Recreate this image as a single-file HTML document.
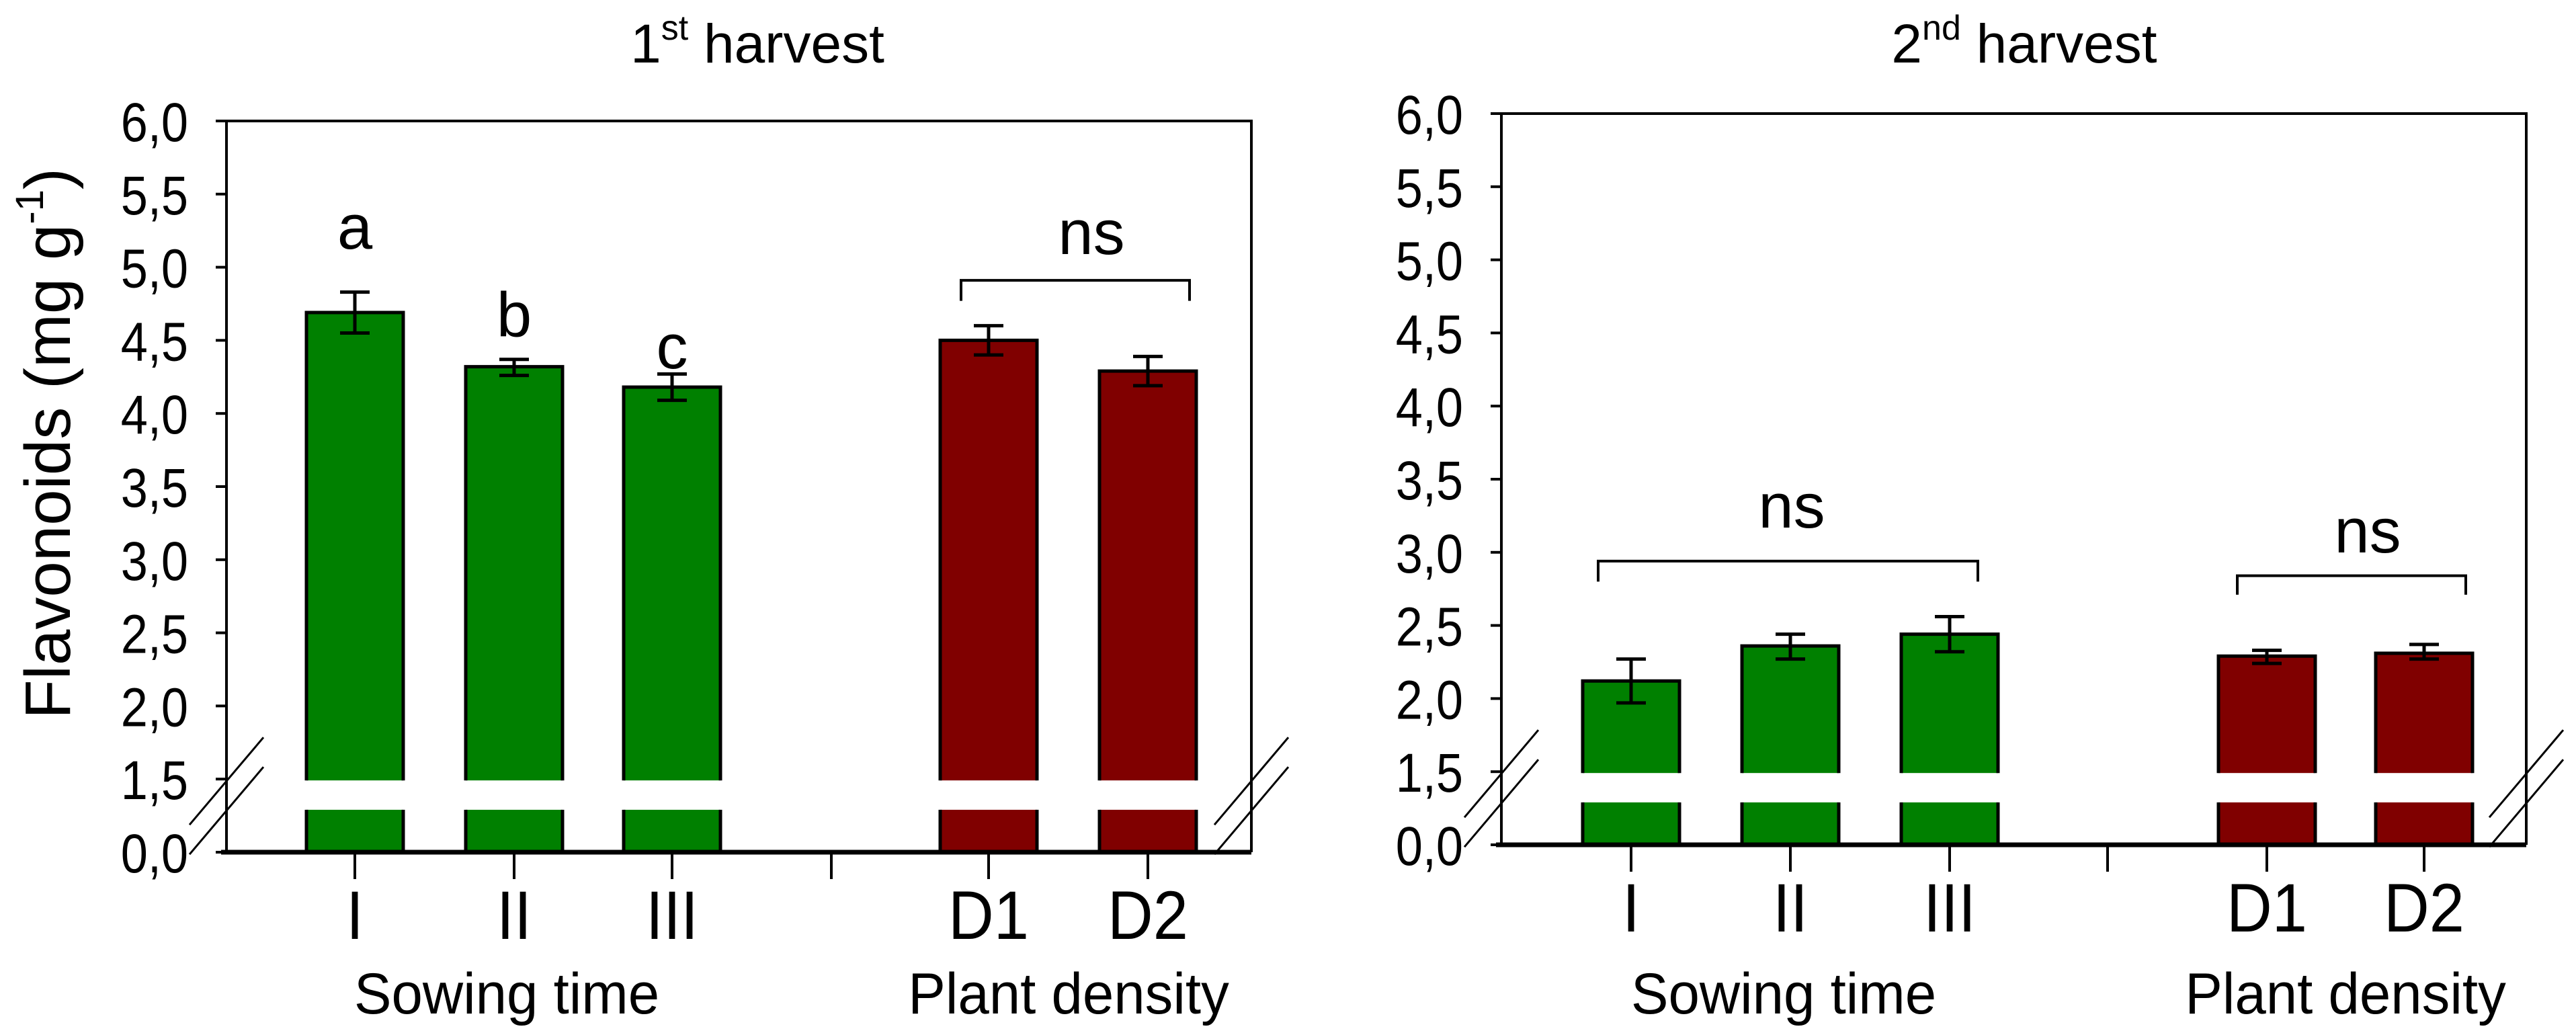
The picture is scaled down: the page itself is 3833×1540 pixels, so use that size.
<!DOCTYPE html>
<html><head><meta charset="utf-8"><style>
html,body{margin:0;padding:0;background:#fff;}
svg{display:block;font-family:"Liberation Sans",Arial,sans-serif;}
</style></head><body>
<svg id="chart" width="3833" height="1540" viewBox="0 0 3833 1540" xmlns="http://www.w3.org/2000/svg"></svg>
<script>
const categories = ["I","II","III","D1","D2"];
const groupLabels = ["Sowing time","Plant density"];
const yTicks = [0,1.5,2,2.5,3,3.5,4,4.5,5,5.5,6];
const yTickLabels = ["0,0","1,5","2,0","2,5","3,0","3,5","4,0","4,5","5,0","5,5","6,0"];
const h1Values = [4.69,4.32,4.18,4.50,4.29];
const h1ErrLow = [4.55,4.26,4.09,4.40,4.19];
const h1ErrHigh = [4.83,4.37,4.27,4.60,4.39];
const h1Letters = ["a","b","c","",""];
const h2Values = [2.12,2.36,2.44,2.29,2.31];
const h2ErrLow = [1.97,2.27,2.32,2.24,2.27];
const h2ErrHigh = [2.27,2.44,2.56,2.33,2.37];

const NS="http://www.w3.org/2000/svg";
const svg=document.getElementById('chart');
function el(tag,attrs,parent){const e=document.createElementNS(NS,tag);for(const k in attrs)e.setAttribute(k,attrs[k]);(parent||svg).appendChild(e);return e;}
function txt(x,y,s,size,anchor,parent,sx){const t=el('text',{transform:`translate(${x},${y}) scale(${sx||1},1)`,'font-size':size,'text-anchor':anchor||'middle',fill:'#000'},parent);t.textContent=s;return t;}

const panels=[
 {x0:337,x1:1862,top:180,bottom:1268,cx:[528,765,1000,1471,1708],sep:1237,vals:h1Values,lo:h1ErrLow,hi:h1ErrHigh,title:"1",sup:"st",titleX:1127,
  groupX:[754,1590],brackets:[{a:1430,b:1770,v:4.91,leg:4.77,tv:5.09,tx:1624}]},
 {x0:2234,x1:3759,top:169,bottom:1257,cx:[2427,2664,2901,3373,3607],sep:3136,vals:h2Values,lo:h2ErrLow,hi:h2ErrHigh,title:"2",sup:"nd",titleX:3012,
  groupX:[2654,3490],brackets:[{a:2378,b:2943,v:2.94,leg:2.80,tv:3.17,tx:2666},{a:3329,b:3669,v:2.84,leg:2.71,tv:3.0,tx:3523}]}
];

panels.forEach((p,pi)=>{
  const g=el('g',{});
  
  
  const step=(p.bottom-p.top)/10;
  const y=v=> v<=1.5 ? p.bottom - (v/1.5)*step : p.bottom - step - (v-1.5)/0.5*step;
  const gapTop=y(1.5)+2, gapBot=p.bottom-step*0.58;
  const t=el('text',{x:p.titleX,y:93,'font-size':82,'text-anchor':'middle'},g);
  
  
  t.innerHTML=`${p.title}<tspan font-size="52" dy="-34">${p.sup}</tspan><tspan dy="34"> harvest</tspan>`;
  categories.forEach((c,i)=>{
    const cx=p.cx[i], w=144, top=y(p.vals[i]);
    const col=i<3?'#008000':'#800000';
    const L=cx-w/2, R=cx+w/2;
    const r1=el('rect',{x:L,y:top,width:w,height:gapTop-top,fill:col},g);
    
    
    el('path',{d:`M${L},${gapTop}V${top}H${R}V${gapTop}`,fill:'none',stroke:'#000','stroke-width':5},g);
    const r2=el('rect',{x:L,y:gapBot,width:w,height:p.bottom-gapBot,fill:col},g);
    
    
    el('path',{d:`M${L},${gapBot}V${p.bottom}M${R},${gapBot}V${p.bottom}`,fill:'none',stroke:'#000','stroke-width':5},g);
    const eb=el('path',{d:`M${cx},${y(p.lo[i])}V${y(p.hi[i])}M${cx-22},${y(p.lo[i])}H${cx+22}M${cx-22},${y(p.hi[i])}H${cx+22}`,stroke:'#000','stroke-width':5,fill:'none'},g);
    
    
    el('line',{x1:cx,y1:p.bottom,x2:cx,y2:p.bottom+40,stroke:'#000','stroke-width':4},g);
    const cl=txt(cx,p.bottom+129,c,102,'middle',g,0.92);
    
    
    if(pi===0 && h1Letters[i]){
      const lt=txt(cx,y(p.vals[i])-(i===0?95:i===1?45:28),h1Letters[i],94,'middle',g);
      
      
    }
  });
  el('line',{x1:p.sep,y1:p.bottom,x2:p.sep,y2:p.bottom+40,stroke:'#000','stroke-width':4},g);
  el('path',{d:`M${p.x0},${p.bottom}V${p.top}H${p.x1}V${p.bottom}`,fill:'none',stroke:'#000','stroke-width':4},g);
  const xa=el('line',{x1:p.x0-8,y1:p.bottom,x2:p.x1,y2:p.bottom,stroke:'#000','stroke-width':7},g);
  
  
  yTicks.forEach((v,i)=>{
    const yy=y(v);
    el('line',{x1:p.x0-16,y1:yy,x2:p.x0,y2:yy,stroke:'#000','stroke-width':4},g);
    const tl=txt(p.x0-57,yy+30,yTickLabels[i],82,'end',g,0.88);
    
    
  });
  const by=y(1.5)+25;
  [p.x0,p.x1].forEach(bx=>{
    [-22,22].forEach(o=>{
      el('line',{x1:bx-55,y1:by+o+65,x2:bx+55,y2:by+o-65,stroke:'#000','stroke-width':3},g);
    });
  });
  p.brackets.forEach(b=>{
    const br=el('path',{d:`M${b.a},${y(b.leg)}V${y(b.v)}H${b.b}V${y(b.leg)}`,fill:'none',stroke:'#000','stroke-width':4},g);
    
    
    const nt=txt(b.tx,y(b.tv),'ns',94,'middle',g);
    
    
  });
  groupLabels.forEach((gl,i)=>{
    const tt=txt(p.groupX[i],1508,gl,86,'middle',g,0.97);
    
    
  });
});
const yt=el('text',{transform:'translate(104,660) rotate(-90)','font-size':96,'text-anchor':'middle'});


yt.innerHTML='Flavonoids (mg g<tspan font-size="58" dy="-40">-1</tspan><tspan dy="40">)</tspan>';
</script>
</body></html>
